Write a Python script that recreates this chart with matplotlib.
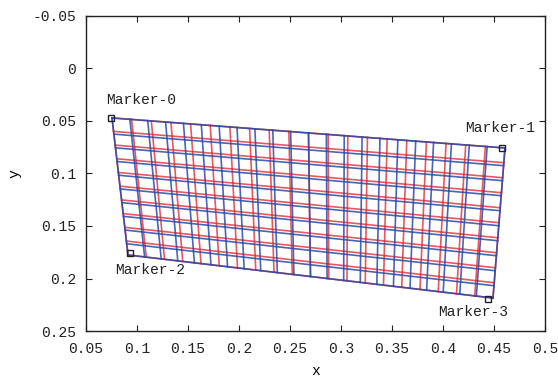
import matplotlib
matplotlib.use('Agg')
import matplotlib.pyplot as plt
from matplotlib.ticker import FixedLocator, FuncFormatter

# grid quadrilateral corners (x, y): top-left, top-right, bottom-left, bottom-right
grid_tl = (0.0755, 0.0471)
grid_tr = (0.4608, 0.0757)
grid_bl = (0.0912, 0.1776)
grid_br = (0.4490, 0.2186)

# column / row fractions for the two meshes
red_cols = [i / 20 for i in range(21)]
blue_cols = [i / 22 for i in range(23)]
red_rows = [0.0, 0.098, 0.198, 0.298, 0.398, 0.498, 0.598, 0.698, 0.798, 0.898, 1.0]
blue_rows = [0.0, 0.118, 0.218, 0.318, 0.418, 0.518, 0.618, 0.718, 0.818, 0.918, 1.0]

marker_x = [0.0745, 0.4578, 0.0931, 0.4441]
marker_y = [0.0471, 0.0757, 0.1757, 0.2195]
marker_names = ['Marker-0', 'Marker-1', 'Marker-2', 'Marker-3']

xticks = [0.05, 0.1, 0.15, 0.2, 0.25, 0.3, 0.35, 0.4, 0.45, 0.5]
yticks = [-0.05, 0, 0.05, 0.1, 0.15, 0.2, 0.25]

plt.rcParams['font.family'] = ['Liberation Mono', 'DejaVu Sans Mono']


def bilin(u, v):
    x = ((1 - u) * (1 - v) * grid_tl[0] + u * (1 - v) * grid_tr[0]
         + (1 - u) * v * grid_bl[0] + u * v * grid_br[0])
    y = ((1 - u) * (1 - v) * grid_tl[1] + u * (1 - v) * grid_tr[1]
         + (1 - u) * v * grid_bl[1] + u * v * grid_br[1])
    return x, y


def draw_mesh(ax, cols, rows, color, alpha):
    for u in cols:
        p0, p1 = bilin(u, 0), bilin(u, 1)
        ax.plot([p0[0], p1[0]], [p0[1], p1[1]], color=color, lw=1.2, alpha=alpha)
    for v in rows:
        p0, p1 = bilin(0, v), bilin(1, v)
        ax.plot([p0[0], p1[0]], [p0[1], p1[1]], color=color, lw=1.2, alpha=alpha)


fig = plt.figure(figsize=(5.58, 3.77), dpi=100)
ax = fig.add_axes([0.1541, 0.122, 0.8226, 0.8356])

draw_mesh(ax, red_cols, red_rows, '#e0202a', 0.75)
draw_mesh(ax, blue_cols, blue_rows, '#2a4aa8', 0.85)

ax.plot(marker_x, marker_y, 's', ms=4.5, mfc='none', mec='#222222', mew=1.0, ls='none')

offsets = [((-5, 18), 'left'), ((33, 20), 'right'), ((-15, -17), 'left'), ((-50, -13), 'left')]
for mx, my, name, (off, ha) in zip(marker_x, marker_y, marker_names, offsets):
    ax.annotate(name, (mx, my), xytext=off, textcoords='offset pixels',
                ha=ha, va='center', fontsize=10.5, color='#222222')

ax.set_xlim(0.05, 0.5)
ax.set_ylim(0.25, -0.05)
ax.xaxis.set_major_locator(FixedLocator(xticks))
ax.yaxis.set_major_locator(FixedLocator(yticks))
fmt = FuncFormatter(lambda v, p: '%g' % round(v, 4))
ax.xaxis.set_major_formatter(fmt)
ax.yaxis.set_major_formatter(fmt)
ax.tick_params(direction='in', length=4.3, width=0.8, top=True, right=True,
               labelsize=10.5, colors='#222222')
ax.tick_params(axis='y', pad=7)
ax.tick_params(axis='x', pad=8)
for s in ax.spines.values():
    s.set_linewidth(1.0)
    s.set_color('#222222')

ax.set_xlabel('x', fontsize=10.5, labelpad=6)
ax.set_ylabel('y', fontsize=10.5, labelpad=8)

fig.savefig('out.png', dpi=100)
